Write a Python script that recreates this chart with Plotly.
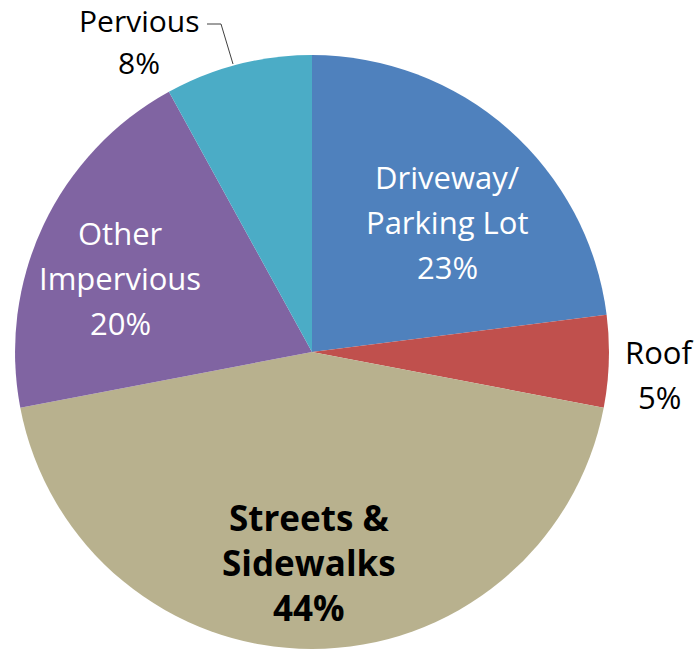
import plotly.graph_objects as go

# Data
categories = ["Driveway/Parking Lot", "Roof", "Streets & Sidewalks", "Other Impervious", "Pervious"]
percentages = [23, 5, 44, 20, 8]
colors = ["#4F81BD", "#C0504D", "#B8B18E", "#8064A2", "#4BACC6"]

W, H = 699, 649
FONT = "Open Sans"

fig = go.Figure(go.Pie(
    labels=categories,
    values=percentages,
    sort=False,
    direction="clockwise",
    rotation=0,
    marker=dict(colors=colors, line=dict(width=0)),
    textinfo="none",
    hoverinfo="label+percent",
    domain=dict(x=[0.0215, 0.8712], y=[0.0, 0.9152]),
    showlegend=False,
))

def px_x(x):
    return x / W

def px_y(y):
    return 1 - y / H

# split each label into the lines shown on the chart
def split_label(i):
    name = categories[i]
    pct = f"{percentages[i]}%"
    if name == "Driveway/Parking Lot":
        return ["Driveway/", "Parking Lot", pct]
    if name == "Streets & Sidewalks":
        return ["Streets &", "Sidewalks", pct]
    if name == "Other Impervious":
        return ["Other", "Impervious", pct]
    return [name, pct]

# centre x, first line y, colour, bold, font size, line gap
label_pos = {
    0: (447, 177, "white", False, 31, 45),
    1: (659, 352, "black", False, 31, 45),
    2: (309, 517, "black", True, 35, 45),
    3: (120, 233, "white", False, 31, 45),
    4: (139, 21, "black", False, 30, 41),
}

annotations = []
for i, (cx, y0, col, bold, size, gap) in label_pos.items():
    for k, txt in enumerate(split_label(i)):
        annotations.append(dict(
            x=px_x(cx), y=px_y(y0 + k * gap), xref="paper", yref="paper",
            text=f"<b>{txt}</b>" if bold else txt,
            showarrow=False, xanchor="center", yanchor="middle",
            font=dict(family=FONT, size=size, color=col),
        ))

# leader line for Pervious
fig.add_shape(
    type="path",
    path=f"M {px_x(207)} {px_y(24)} L {px_x(221)} {px_y(24)} L {px_x(233)} {px_y(64)}",
    xref="paper", yref="paper",
    line=dict(color="#404040", width=1),
)

fig.update_layout(
    width=W, height=H,
    margin=dict(l=0, r=0, t=0, b=0),
    paper_bgcolor="white",
    plot_bgcolor="white",
    annotations=annotations,
)

# drop the default page margin so the figure sits at the window's corner
fig.write_html(
    "out.html",
    config={"displayModeBar": False},
    post_script="document.body.style.margin='0px';",
)
